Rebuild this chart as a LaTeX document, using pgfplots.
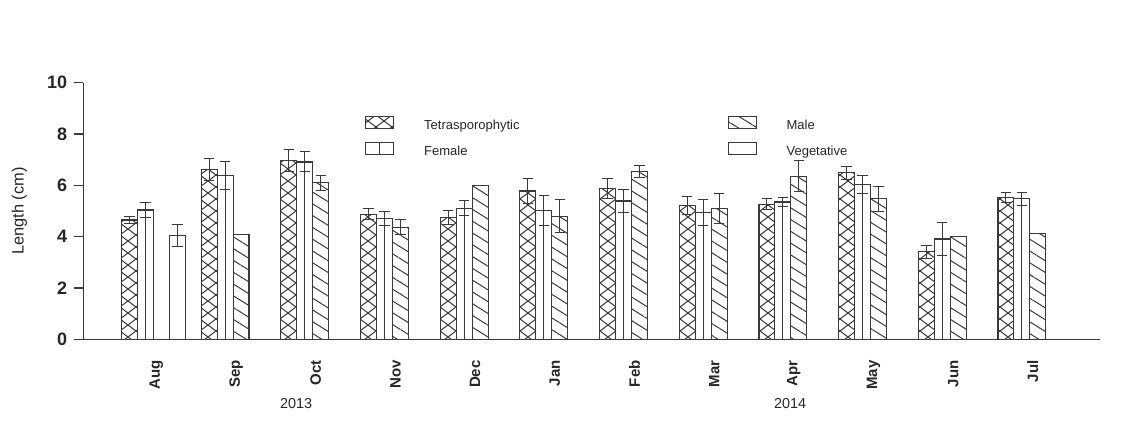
\documentclass[border=0pt]{standalone}
\usepackage{fontspec}
\setmainfont{Liberation Sans}
\usepackage{pgfplots}
\pgfplotsset{compat=1.18}
\usetikzlibrary{patterns,patterns.meta}

\pgfdeclarepatternformonly{xcross}{\pgfqpoint{-1pt}{-1pt}}{\pgfqpoint{9pt}{7pt}}{\pgfqpoint{8pt}{6pt}}{%
  \pgfsetlinewidth{0.5pt}%
  \pgfpathmoveto{\pgfqpoint{0pt}{0pt}}\pgfpathlineto{\pgfqpoint{8pt}{6pt}}%
  \pgfpathmoveto{\pgfqpoint{0pt}{6pt}}\pgfpathlineto{\pgfqpoint{8pt}{0pt}}%
  \pgfusepath{stroke}}

\definecolor{ink}{HTML}{3A3A3A}

\pgfplotsset{
  barbase/.style={ybar, bar width=0.2, bar shift=0pt, draw=ink, line width=0.55pt,
    /pgfplots/error bars/y dir=both, /pgfplots/error bars/y explicit,
    /pgfplots/error bars/error bar style={line width=0.5pt, ink},
    /pgfplots/error bars/error mark options={rotate=90, mark size=2.6pt, line width=0.5pt, ink}},
}

\begin{document}
\begin{tikzpicture}
\useasboundingbox (-41.65pt,-46.85pt) rectangle (524.35pt,169.65pt);
\begin{axis}[
  at={(0pt,0pt)}, anchor=south west, scale only axis,
  width=508.35pt, height=128.3pt,
  xmin=-0.88, xmax=11.88, ymin=0, ymax=10,
  axis x line*=bottom, axis y line*=left,
  axis line style={ink, line width=0.6pt},
  ytick={0,2,4,6,8,10},
  xtick={0,...,11},
  xticklabels={Aug,Sep,Oct,Nov,Dec,Jan,Feb,Mar,Apr,May,Jun,Jul},
  x tick style={draw=none},
  y tick style={ink, line width=0.6pt},
  tick align=outside, major tick length=4.5pt,
  /pgf/number format/assume math mode=true,
  yticklabel style={font=\bfseries\fontsize{9}{9}\selectfont, text=black!85},
  xticklabel style={font=\bfseries\fontsize{7.5}{7.5}\selectfont, text=black!85, xshift=1.5pt, yshift=-2.5pt, rotate=90, anchor=east},
  ylabel={Length (cm)},
  every axis y label/.style={at={(axis description cs:0,0.5)}, xshift=-32pt, rotate=90, anchor=center, font=\fontsize{8.2}{8.2}\selectfont, text=black!85},
  clip=false,
  legend columns=2,
  legend cell align=left,
  legend style={draw=none, fill=none, at={(axis description cs:0.271,0.889)}, anchor=north west,
    font=\fontsize{6.5}{6.5}\selectfont, text=black!85, row sep=2.5pt,
    /tikz/column 1/.style={column sep=13pt},
    /tikz/column 2/.style={column sep=102pt},
    /tikz/column 3/.style={column sep=13pt}},
]
% Tetrasporophytic
\addplot[barbase, pattern=xcross, pattern color=ink, forget plot] coordinates {
 (-0.3,4.65) +- (0,0.15)
 (0.7,6.62) +- (0,0.42)
 (1.7,6.96) +- (0,0.42)
 (2.7,4.88) +- (0,0.22)
 (3.7,4.75) +- (0,0.26)
 (4.7,5.78) +- (0,0.49)
 (5.7,5.88) +- (0,0.39)
 (6.7,5.22) +- (0,0.34)
 (7.7,5.26) +- (0,0.21)
 (8.7,6.49) +- (0,0.26)
 (9.7,3.41) +- (0,0.26)
 (10.7,5.53) +- (0,0.20)
};
% Female (full bar)
\addplot[barbase, fill=white, forget plot] coordinates {
 (-0.1,5.04) +- (0,0.31)
 (0.9,6.39) +- (0,0.55)
 (1.9,6.91) +- (0,0.39)
 (2.9,4.71) +- (0,0.26)
 (3.9,5.10) +- (0,0.29)
 (4.9,5.01) +- (0,0.59)
 (5.9,5.39) +- (0,0.46)
 (6.9,4.93) +- (0,0.50)
 (7.9,5.35) +- (0,0.18)
 (8.9,6.03) +- (0,0.36)
 (9.9,3.91) +- (0,0.65)
 (10.9,5.48) +- (0,0.26)
};
% Female (half bar giving the middle line)
\addplot[ybar, bar width=0.1, bar shift=0pt, draw=ink, line width=0.55pt, fill=none, forget plot] coordinates {
 (-0.15,5.04) (0.85,6.39) (1.85,6.91) (2.85,4.71) (3.85,5.10) (4.85,5.01)
 (5.85,5.39) (6.85,4.93) (7.85,5.35) (8.85,6.03) (9.85,3.91) (10.85,5.48)
};
% Male
\addplot[barbase, pattern={Lines[angle=-32, distance=5pt, line width=0.5pt]}, pattern color=ink, forget plot] coordinates {
 (1.1,4.10) +- (0,0)
 (2.1,6.10) +- (0,0.29)
 (3.1,4.36) +- (0,0.29)
 (4.1,5.99) +- (0,0)
 (5.1,4.79) +- (0,0.64)
 (6.1,6.53) +- (0,0.24)
 (7.1,5.10) +- (0,0.58)
 (8.1,6.36) +- (0,0.60)
 (9.1,5.47) +- (0,0.48)
 (10.1,4.00) +- (0,0)
 (11.1,4.12) +- (0,0)
};
% Vegetative
\addplot[barbase, fill=white, forget plot] coordinates {
 (0.3,4.05) +- (0,0.43)
};

\addlegendimage{legend image code/.code={\draw[ink, line width=0.5pt, pattern=xcross, pattern color=ink] (0pt,-0.8pt) rectangle (14pt,5.2pt);}}
\addlegendentry{Tetrasporophytic}
\addlegendimage{legend image code/.code={\draw[ink, line width=0.5pt, pattern={Lines[angle=-32, distance=5pt, line width=0.5pt]}, pattern color=ink] (0pt,-0.8pt) rectangle (14pt,5.2pt);}}
\addlegendentry{Male}
\addlegendimage{legend image code/.code={\draw[ink, line width=0.5pt, fill=white] (0pt,-0.8pt) rectangle (14pt,5.2pt); \draw[ink, line width=0.5pt] (7pt,-0.8pt) -- (7pt,5.2pt);}}
\addlegendentry{Female}
\addlegendimage{legend image code/.code={\draw[ink, line width=0.5pt, fill=white] (0pt,-0.8pt) rectangle (14pt,5.2pt);}}
\addlegendentry{Vegetative}

\node[font=\fontsize{7.2}{7.2}\selectfont, text=black!85] at (axis cs:1.79,-2.50) {2013};
\node[font=\fontsize{7.2}{7.2}\selectfont, text=black!85] at (axis cs:7.99,-2.50) {2014};
\end{axis}
\end{tikzpicture}
\end{document}
